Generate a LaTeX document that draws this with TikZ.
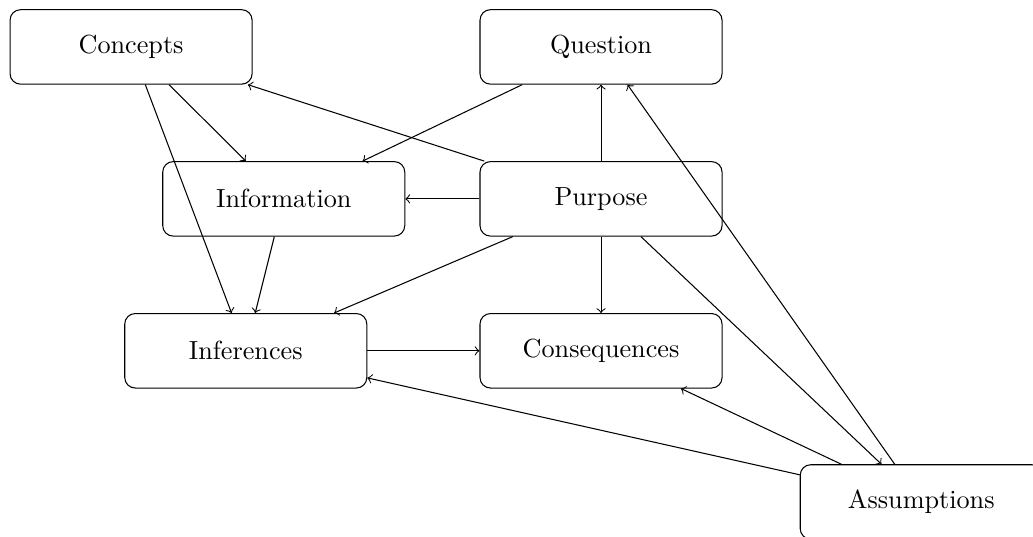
\documentclass[tikz,border=0pt]{standalone}
\usepackage{amsmath, amssymb}
\usepackage{tikz}
\usetikzlibrary{arrows,%
                shapes,positioning}

\begin{document}
\begin{tikzpicture}[box/.style={draw, rectangle, rounded corners,
                    minimum width=3.25cm, minimum height=1cm}]
\useasboundingbox (0,0) rectangle (13.87,7.21);
\node[box] (concepts) at (1.76,6.58) {Concepts};
\node[box] (question) at (8.07,6.58) {Question};
\node[box] (information) at (3.81,4.54) {Information};
\node[box] (purpose) at (8.07,4.54) {Purpose};
\node[box] (inferences) at (3.30,2.50) {Inferences};
\node[box] (consequences) at (8.07,2.50) {Consequences};
\node[box] (assumptions) at (12.37,0.47) {Assumptions};

\draw[->] (concepts) -- (information);
\draw[->] (concepts) -- (inferences);
\draw[->] (question) -- (information);
\draw[->] (information) -- (inferences);
\draw[->] (inferences) -- (consequences);

\draw[->] (purpose) -- (concepts);
\draw[->] (purpose) -- (question);
\draw[->] (purpose) -- (information);
\draw[->] (purpose) -- (inferences);
\draw[->] (purpose) -- (consequences);
\draw[->] (purpose) -- (assumptions);

\draw[->] (assumptions) -- (question);
\draw[->] (assumptions) -- (inferences);
\draw[->] (assumptions) -- (consequences);
\end{tikzpicture}
\end{document}
